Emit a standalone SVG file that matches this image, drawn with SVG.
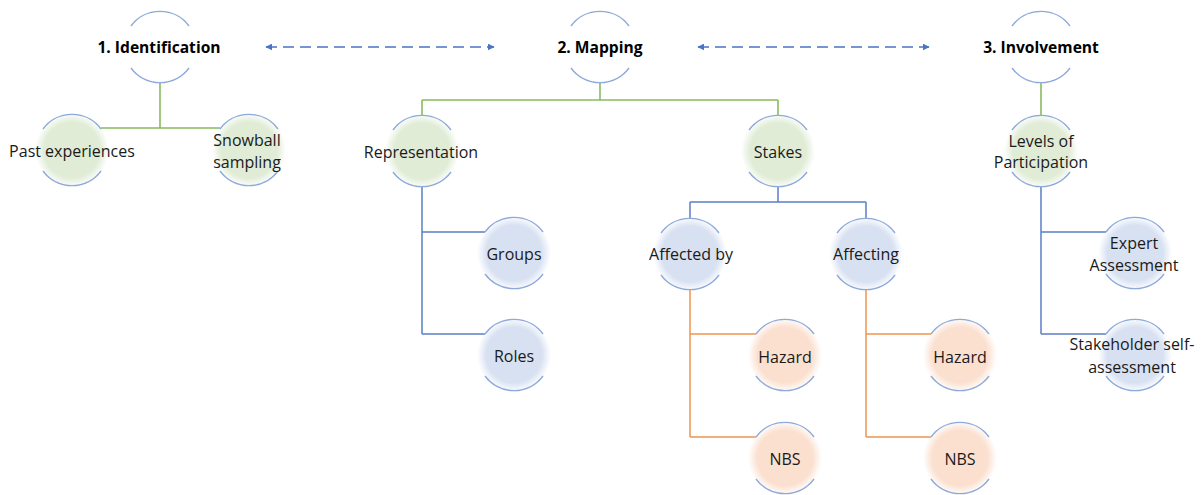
<svg xmlns="http://www.w3.org/2000/svg" width="1203" height="495" viewBox="0 0 1203 495">
  <style>
    text { font-family: "Open Sans", "Noto Sans", "Liberation Sans", sans-serif; fill: #1a1a1a; text-anchor: middle; dominant-baseline: central; }
    .title { font-size: 15.6px; font-weight: bold; fill: #000; }
    .lbl { font-size: 16px; }
    .arc { fill: none; stroke: #8eaadb; stroke-width: 1.4; }
    .cg { fill: none; stroke: #86bc5e; stroke-width: 1.6; }
    .cb { fill: none; stroke: #5b7fc7; stroke-width: 1.5; }
    .co { fill: none; stroke: #f0954f; stroke-width: 1.5; }
    .dash { fill: none; stroke: #4a74c4; stroke-width: 1.6; stroke-dasharray: 11 6; }
  </style>
  <defs>
    <radialGradient id="gGreen">
      <stop offset="0" stop-color="#e0ecd6"/>
      <stop offset="0.75" stop-color="#e0ecd6"/>
      <stop offset="1" stop-color="#e0ecd6" stop-opacity="0"/>
    </radialGradient>
    <radialGradient id="gBlue">
      <stop offset="0" stop-color="#d8e1f2"/>
      <stop offset="0.75" stop-color="#d8e1f2"/>
      <stop offset="1" stop-color="#d8e1f2" stop-opacity="0"/>
    </radialGradient>
    <radialGradient id="gOrange">
      <stop offset="0" stop-color="#fbe0d0"/>
      <stop offset="0.75" stop-color="#fbe0d0"/>
      <stop offset="1" stop-color="#fbe0d0" stop-opacity="0"/>
    </radialGradient>
    <!-- upper and lower bracket arcs around each node -->
    <path id="arcs" class="arc" d="M-29,-21 A36,36 0 0 1 29,-21 M-29,21 A36,36 0 0 0 29,21"/>
    <marker id="ah" viewBox="0 0 10 10" refX="9" refY="5" markerWidth="7" markerHeight="7" markerUnits="userSpaceOnUse" orient="auto-start-reverse">
      <path d="M0,0 L10,5 L0,10 Z" fill="#4a74c4"/>
    </marker>
  </defs>

  <!-- connectors -->
  <g id="connectors">
    <path class="dash" d="M266,47 H494" marker-start="url(#ah)" marker-end="url(#ah)"/>
    <path class="dash" d="M698,47 H929" marker-start="url(#ah)" marker-end="url(#ah)"/>
    <path class="cg" d="M160,83 V128 M101,128 H220"/>
    <path class="cg" d="M600,83 V100 M422,100 H778 M422,100 V115 M778,100 V115"/>
    <path class="cg" d="M1041,83 V115"/>
    <path class="cb" d="M422,187 V334 M422,232 H485 M422,334 H485"/>
    <path class="cb" d="M778,187 V202 M690,202 H866 M690,202 V218 M866,202 V218"/>
    <path class="cb" d="M1041,187 V334 M1041,232 H1106 M1041,334 H1106"/>
    <path class="co" d="M690,290 V437 M690,334 H756 M690,437 H756"/>
    <path class="co" d="M866,290 V437 M866,334 H931 M866,437 H931"/>
  </g>

  <!-- top level steps -->
  <g id="identification">
    <use href="#arcs" x="160" y="47"/>
    <text class="title" x="159" y="47">1. Identification</text>
  </g>
  <g id="mapping">
    <use href="#arcs" x="600" y="47"/>
    <text class="title" x="600" y="47">2. Mapping</text>
  </g>
  <g id="involvement">
    <use href="#arcs" x="1041" y="47"/>
    <text class="title" x="1041" y="47">3. Involvement</text>
  </g>

  <!-- identification branch -->
  <g id="past-experiences">
    <circle cx="72" cy="150" r="37" fill="url(#gGreen)"/>
    <use href="#arcs" x="72" y="150"/>
    <text class="lbl" x="72" y="151">Past experiences</text>
  </g>
  <g id="snowball-sampling">
    <circle cx="249" cy="150" r="37" fill="url(#gGreen)"/>
    <use href="#arcs" x="249" y="150"/>
    <text class="lbl" x="247" y="140">Snowball</text>
    <text class="lbl" x="247" y="162">sampling</text>
  </g>

  <!-- mapping branch -->
  <g id="representation">
    <circle cx="422" cy="151" r="37" fill="url(#gGreen)"/>
    <use href="#arcs" x="422" y="151"/>
    <text class="lbl" x="421" y="152">Representation</text>
  </g>
  <g id="groups">
    <circle cx="514" cy="253" r="37" fill="url(#gBlue)"/>
    <use href="#arcs" x="514" y="253"/>
    <text class="lbl" x="514" y="254">Groups</text>
  </g>
  <g id="roles">
    <circle cx="514" cy="355" r="37" fill="url(#gBlue)"/>
    <use href="#arcs" x="514" y="355"/>
    <text class="lbl" x="514" y="356">Roles</text>
  </g>
  <g id="stakes">
    <circle cx="778" cy="151" r="37" fill="url(#gGreen)"/>
    <use href="#arcs" x="778" y="151"/>
    <text class="lbl" x="778" y="152">Stakes</text>
  </g>
  <g id="affected-by">
    <circle cx="690" cy="254" r="37" fill="url(#gBlue)"/>
    <use href="#arcs" x="690" y="254"/>
    <text class="lbl" x="691" y="254">Affected by</text>
  </g>
  <g id="affecting">
    <circle cx="866" cy="254" r="37" fill="url(#gBlue)"/>
    <use href="#arcs" x="866" y="254"/>
    <text class="lbl" x="866" y="254">Affecting</text>
  </g>
  <g id="hazard-1">
    <circle cx="785" cy="355" r="37" fill="url(#gOrange)"/>
    <use href="#arcs" x="785" y="355"/>
    <text class="lbl" x="785" y="357">Hazard</text>
  </g>
  <g id="nbs-1">
    <circle cx="785" cy="458" r="37" fill="url(#gOrange)"/>
    <use href="#arcs" x="785" y="458"/>
    <text class="lbl" x="785" y="459">NBS</text>
  </g>
  <g id="hazard-2">
    <circle cx="960" cy="355" r="37" fill="url(#gOrange)"/>
    <use href="#arcs" x="960" y="355"/>
    <text class="lbl" x="960" y="357">Hazard</text>
  </g>
  <g id="nbs-2">
    <circle cx="960" cy="458" r="37" fill="url(#gOrange)"/>
    <use href="#arcs" x="960" y="458"/>
    <text class="lbl" x="960" y="459">NBS</text>
  </g>

  <!-- involvement branch -->
  <g id="levels-of-participation">
    <circle cx="1041" cy="151" r="37" fill="url(#gGreen)"/>
    <use href="#arcs" x="1041" y="151"/>
    <text class="lbl" x="1041" y="141">Levels of</text>
    <text class="lbl" x="1041" y="162">Participation</text>
  </g>
  <g id="expert-assessment">
    <circle cx="1135" cy="253" r="37" fill="url(#gBlue)"/>
    <use href="#arcs" x="1135" y="253"/>
    <text class="lbl" x="1134" y="243">Expert</text>
    <text class="lbl" x="1134" y="265">Assessment</text>
  </g>
  <g id="stakeholder-self-assessment">
    <circle cx="1135" cy="355" r="37" fill="url(#gBlue)"/>
    <use href="#arcs" x="1135" y="355"/>
    <text class="lbl" x="1132" y="344">Stakeholder self-</text>
    <text class="lbl" x="1132" y="367">assessment</text>
  </g>
</svg>
